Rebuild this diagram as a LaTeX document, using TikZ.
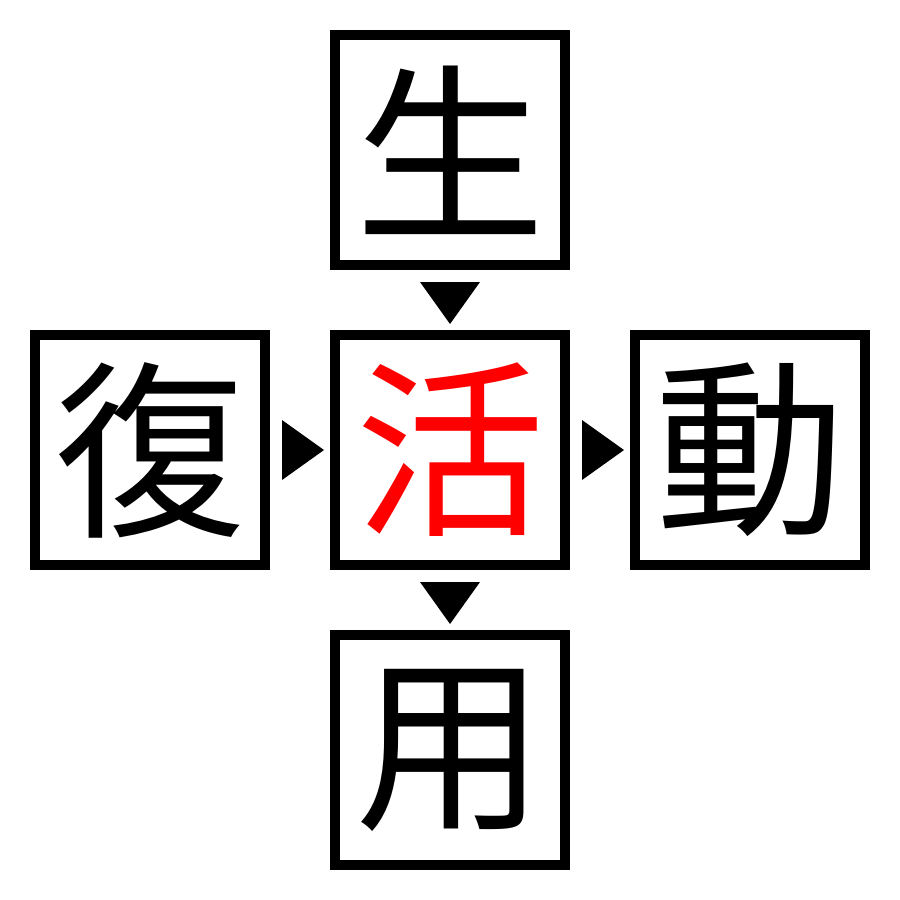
\documentclass[tikz,border=0pt]{standalone}
\usepackage{fontspec}
\newfontfamily\cjk{Noto Sans CJK JP}
\usepackage{tikz}

\tikzset{kanjibox/.style={draw,line width=0.1cm,minimum size=2.3cm,inner sep=0pt,
  font=\cjk\fontsize{54}{54}\selectfont}}

\begin{document}
\begin{tikzpicture}[line cap=butt,line join=miter,x=0.01cm,y=-0.01cm]
\useasboundingbox (0,0) rectangle (900,900);

\node[kanjibox] (sei) at (450,150) {生};
\node[kanjibox,text=red] (katsu) at (450,450) {活};
\node[kanjibox] (fuku) at (150,450) {復};
\node[kanjibox] (dou) at (750,450) {動};
\node[kanjibox] (you) at (450,750) {用};

% markers
\fill (420,282) -- (480,282) -- (450,324) -- cycle;
\fill (420,582) -- (480,582) -- (450,624) -- cycle;
\fill (282,420) -- (282,480) -- (324,450) -- cycle;
\fill (582,420) -- (582,480) -- (624,450) -- cycle;
\end{tikzpicture}
\end{document}
